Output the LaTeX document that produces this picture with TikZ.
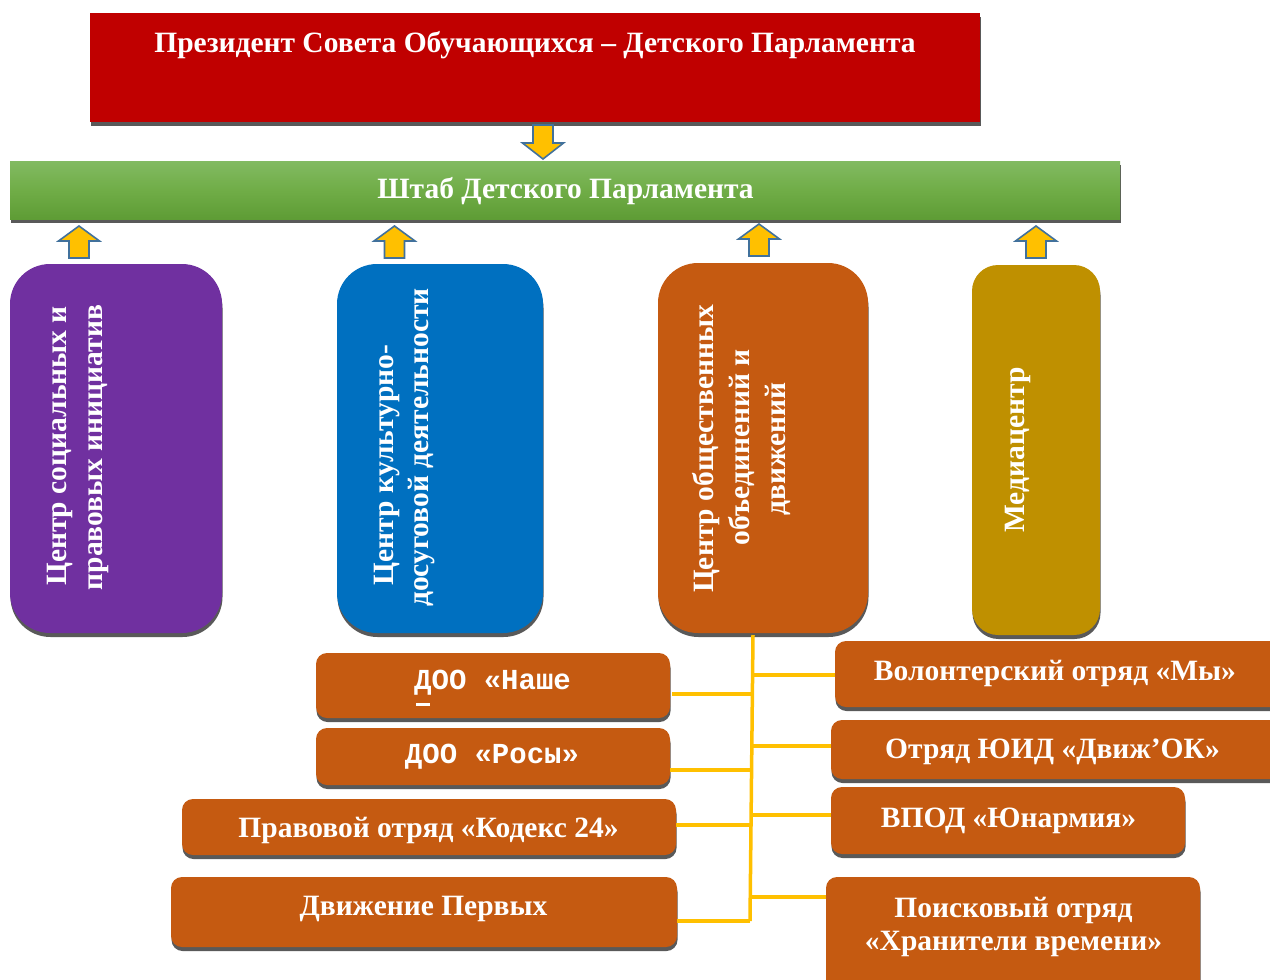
\documentclass[tikz,border=0pt]{standalone}
\usepackage{fontspec}
\setmainfont{Liberation Serif}
\newfontfamily\monof{Liberation Mono}
\usetikzlibrary{shadows,calc}
\definecolor{cRed}{HTML}{C00000}
\definecolor{cGreenT}{HTML}{82BA62}
\definecolor{cGreenM}{HTML}{70AD47}
\definecolor{cGreenB}{HTML}{5E9C35}
\definecolor{cPurple}{HTML}{7030A0}
\definecolor{cBlue}{HTML}{0070C0}
\definecolor{cOrange}{HTML}{C55A11}
\definecolor{cGold}{HTML}{BF9000}
\definecolor{cShadow}{HTML}{595959}
\definecolor{cYellow}{HTML}{FFC000}
\definecolor{cArrBorder}{HTML}{41719C}
\tikzset{
  box/.style={rectangle, draw=none, inner sep=0pt,
    drop shadow={shadow xshift=0.5pt, shadow yshift=-4pt, fill=cShadow, opacity=1}},
  bigbox/.style={box, rounded corners=40pt},
  smallbox/.style={box, fill=cOrange, rounded corners=11pt},
  txt/.style={text=white, font=\bfseries\fontsize{29.5}{36}\selectfont, inner sep=0pt, anchor=base},
  vtxt/.style={txt, rotate=90},
  mtxt/.style={text=white, font=\monof\bfseries\fontsize{29}{30}\selectfont, inner sep=0pt, anchor=base west},
  yel/.style={draw=cYellow, line width=3.5pt},
  arrfill/.style={fill=cYellow, draw=cArrBorder, line width=1.6pt, line join=miter},
  uparr/.pic={\filldraw[arrfill] (0,0) -- (20.5,15) -- (10,15) -- (10,32) -- (-10,32) -- (-10,15) -- (-20.5,15) -- cycle;},
  dnarr/.pic={\filldraw[arrfill] (0,0) -- (20.5,-16) -- (10,-16) -- (10,-34) -- (-10,-34) -- (-10,-16) -- (-20.5,-16) -- cycle;}
}
\begin{document}
\begin{tikzpicture}[x=1pt,y=-1pt]
\useasboundingbox (0,0) rectangle (1270,980);
\fill[white] (0,0) rectangle (1270,980);
\clip (0,0) rectangle (1270,980);

% top level
\node[box, fill=cRed, minimum width=890pt, minimum height=109pt] (pres) at (535,67.5) {};
\node[txt] (presT) at (535,52) {Президент Совета Обучающихся – Детского Парламента};

\node[box, top color=cGreenT, bottom color=cGreenB, middle color=cGreenM,
      minimum width=1110pt, minimum height=58pt] (shtab) at (565,190) {};
\node[txt] (shtabT) at (565.5,198) {Штаб Детского Парламента};

\pic at (543,159) {dnarr};

% centres
\node[bigbox, fill=cPurple, minimum width=212pt, minimum height=369pt] (soc) at (116,448.5) {};
\node[bigbox, fill=cBlue, minimum width=206pt, minimum height=369pt] (kult) at (440,448.5) {};
\node[bigbox, fill=cOrange, minimum width=210pt, minimum height=370pt] (ob) at (763,448) {};
\node[box, rounded corners=26pt, fill=cGold, minimum width=128pt, minimum height=370pt] (media) at (1036,450) {};

\pic at (79,226) {uparr};
\pic at (394.5,226) {uparr};
\pic at (759,224) {uparr};
\pic at (1036,226) {uparr};

\node[vtxt] (socA) at (66,446) {Центр социальных и};
\node[vtxt] (socB) at (102,447.5) {правовых инициатив};
\node[vtxt] (kultA) at (393,465) {Центр культурно-};
\node[vtxt] (kultB) at (428,447.5) {досуговой деятельности};
\node[vtxt] (obA) at (713,449) {Центр общественных};
\node[vtxt] (obB) at (749,447.5) {объединений и};
\node[vtxt] (obC) at (785,449) {движений};
\node[vtxt] (mediaT) at (1024,450) {Медиацентр};

% lower boxes
\node[smallbox, minimum width=354pt, minimum height=65pt] (nashe) at (493,685.5) {};
\node[smallbox, minimum width=354pt, minimum height=57pt] (rosy) at (493,756.5) {};
\node[smallbox, minimum width=494pt, minimum height=56pt] (kodeks) at (429,827) {};
\node[smallbox, minimum width=506pt, minimum height=70pt] (perv) at (424,912) {};
\node[smallbox, minimum width=450pt, minimum height=66pt] (volont) at (1060,674) {};
\node[smallbox, minimum width=454pt, minimum height=59pt] (yuid) at (1058,749.5) {};
\node[smallbox, minimum width=354pt, minimum height=67pt] (vpod) at (1008,820.5) {};
\node[smallbox, minimum width=374pt, minimum height=118pt] (poisk) at (1013,936) {};

\node[mtxt] (nasheT) at (414,689) {\rlap{\hspace{2pt}\raisebox{-17pt}{\rule{14pt}{3.5pt}}}ДОО «Наше};
\node[mtxt, anchor=base] (rosyT) at (492,763) {ДОО «Росы»};
\node[txt] (kodeksT) at (428.5,837) {Правовой отряд «Кодекс 24»};
\node[txt] (pervT) at (423.5,915) {Движение Первых};
\node[txt] (volontT) at (1055,680) {Волонтерский отряд «Мы»};
\node[txt] (yuidT) at (1052.5,758) {Отряд ЮИД «Движ’ОК»};
\node[txt] (vpodT) at (1008.5,827) {ВПОД «Юнармия»};
\node[txt] (poiskA) at (1013.5,917) {Поисковый отряд};
\node[txt] (poiskB) at (1013.5,950) {«Хранители времени»};

% connectors
\coordinate (trTop) at (753,635);
\coordinate (trBot) at (750,921);
\coordinate (tR1) at (752.5,675);
\coordinate (tL1) at (752,694);
\coordinate (tR2) at (752,746);
\coordinate (tL2) at (751.5,770);
\coordinate (tR3) at (751.5,815);
\coordinate (tL3) at (751,825);
\coordinate (tR4) at (750.5,897);
\draw[yel] (trTop) -- (trBot);
\draw[yel] (tR1) -- (tR1 -| volont.west);
\draw[yel] (tR2) -- (tR2 -| yuid.west);
\draw[yel] (tR3) -- (tR3 -| vpod.west);
\draw[yel] (tR4) -- (tR4 -| poisk.west);
\draw[yel] (tL1) -- ($(tL1 -| nashe.east)+(2,0)$);
\draw[yel] (tL2) -- (tL2 -| rosy.east);
\draw[yel] (tL3) -- (tL3 -| kodeks.east);
\draw[yel] (trBot) -- (trBot -| perv.east);
\end{tikzpicture}
\end{document}
